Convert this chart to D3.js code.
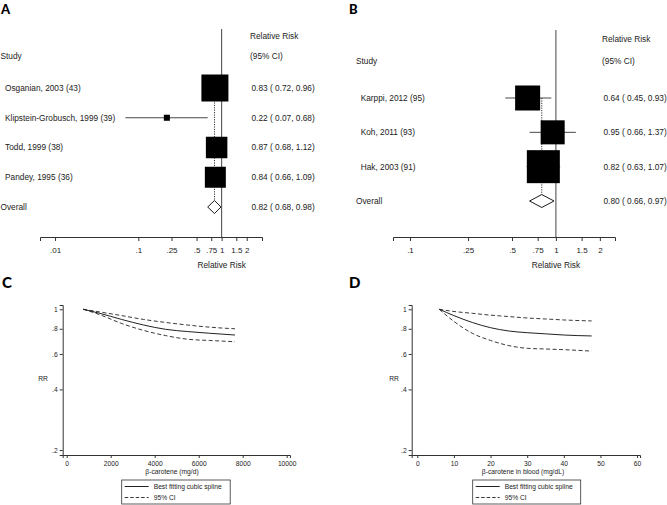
<!DOCTYPE html>
<html>
<head>
<meta charset="utf-8">
<script src="https://cdn.jsdelivr.net/npm/d3@7"></script>
<style>
  html, body { margin: 0; padding: 0; background: #fff; }
  svg { display: block; }
  text { font-family: "Liberation Sans", Arial, sans-serif; fill: #222; }
  .panel { font-family: Lato, "Open Sans", sans-serif; font-weight: 900; fill: #000; }
</style>
</head>
<body>
<svg id="chart" width="667" height="505"></svg>
<script>
// ---------------- DATA ----------------
// Panel A
const studiesA = ["Osganian, 2003 (43)", "Klipstein-Grobusch, 1999 (39)", "Todd, 1999 (38)", "Pandey, 1995 (36)"];
const rrA = [0.83, 0.22, 0.87, 0.84];
const lowA = [0.72, 0.07, 0.68, 0.66];
const highA = [0.96, 0.68, 1.12, 1.09];
const weightA = [43.7, 2.2, 27.7, 26.4];
const overallA = [0.82, 0.68, 0.98];
const ciTextA = ["0.83 ( 0.72, 0.96)", "0.22 ( 0.07, 0.68)", "0.87 ( 0.68, 1.12)", "0.84 ( 0.66, 1.09)", "0.82 ( 0.68, 0.98)"];
const ticksA = [0.01, 0.1, 0.25, 0.5, 0.75, 1, 1.5, 2];
const tickLabelsA = [".01", ".1", ".25", ".5", ".75", "1", "1.5", "2"];
const axisDomainA = [0.0066, 3.05];

// Panel B
const studiesB = ["Karppi, 2012 (95)", "Koh, 2011 (93)", "Hak, 2003 (91)"];
const rrB = [0.64, 0.95, 0.82];
const lowB = [0.45, 0.66, 0.63];
const highB = [0.93, 1.37, 1.07];
const weightB = [27.3, 25.2, 47.5];
const overallB = [0.80, 0.66, 0.97];
const ciTextB = ["0.64 ( 0.45, 0.93)", "0.95 ( 0.66, 1.37)", "0.82 ( 0.63, 1.07)", "0.80 ( 0.66, 0.97)"];
const ticksB = [0.1, 0.25, 0.5, 0.75, 1, 1.5, 2];
const tickLabelsB = [".1", ".25", ".5", ".75", "1", "1.5", "2"];
const axisDomainB = [0.0765, 2.54];

// Panel C (dose-response, dietary beta-carotene mg/d)
const doseC = [750, 1500, 2500, 3500, 4500, 5500, 6500, 7650];
const fitC = [1.0, 0.955, 0.89, 0.835, 0.795, 0.775, 0.76, 0.745];
const upperC = [1.0, 0.97, 0.93, 0.89, 0.86, 0.835, 0.815, 0.80];
const lowerC = [1.0, 0.94, 0.85, 0.785, 0.74, 0.71, 0.70, 0.69];
const xTicksC = [0, 2000, 4000, 6000, 8000, 10000];

// Panel D (blood beta-carotene mg/dL)
const doseD = [6, 10, 15, 20, 25, 30, 35, 40, 47.6];
const fitD = [1.0, 0.93, 0.86, 0.81, 0.78, 0.765, 0.755, 0.745, 0.737];
const upperD = [1.0, 0.975, 0.955, 0.935, 0.92, 0.905, 0.895, 0.885, 0.875];
const lowerD = [1.0, 0.87, 0.76, 0.70, 0.66, 0.64, 0.635, 0.63, 0.62];
const xTicksD = [0, 10, 20, 30, 40, 50, 60];

const yTicksRR = [0.2, 0.4, 0.6, 0.8, 1];
const yTickLabelsRR = [".2", ".4", ".6", ".8", "1"];
const yDomainRR = [0.189, 1.05];

// ---------------- DRAW ----------------
const svg = d3.select("#chart");
const LINE = "#333";
const FS = 8.3;   // forest plot text
const FS2 = 6.7;  // spline panels text

function forest(opt) {
  const g = svg.append("g");
  const x = d3.scaleLog().domain(opt.axisDomain).range(opt.xRange);
  const labels = opt.studies.concat(["Overall"]);
  const y = d3.scalePoint().domain(labels).range(opt.yRange);
  const size = d3.scaleSqrt().domain([0, d3.max(opt.weight)]).range([0, opt.maxBox]);

  g.append("text").attr("class", "panel").attr("x", opt.letterX).attr("y", 14)
    .attr("font-size", 13).text(opt.letter);

  g.append("text").attr("x", opt.studyX).attr("y", opt.headY2).attr("dy", "0.35em")
    .attr("font-size", FS).text("Study");
  g.append("text").attr("x", opt.valX - 1.5).attr("y", opt.headY1).attr("dy", "0.35em")
    .attr("font-size", FS).text("Relative Risk");
  g.append("text").attr("x", opt.valX - 1.5).attr("y", opt.headY2).attr("dy", "0.35em")
    .attr("font-size", FS).text("(95% CI)");

  const axisY = opt.axisY;
  const ax = g.append("g").attr("transform", `translate(0,${axisY})`)
    .call(d3.axisBottom(x).tickValues(opt.ticks).tickSizeOuter(0).tickSize(4)
      .tickFormat((d, i) => opt.tickLabels[i]));
  ax.select(".domain").attr("stroke", LINE);
  ax.selectAll(".tick line").attr("stroke", LINE);
  ax.selectAll(".tick text").attr("font-size", 8).attr("fill", "#222").attr("y", 10).attr("dy", "0.71em");
  g.append("text").attr("x", x(1)).attr("y", axisY + 31).attr("text-anchor", "middle")
    .attr("font-size", FS).text("Relative Risk");

  g.append("line").attr("x1", x(1)).attr("x2", x(1)).attr("y1", opt.nullTop).attr("y2", axisY)
    .attr("stroke", "#444").attr("stroke-width", 1);

  g.append("line").attr("x1", x(opt.overall[0])).attr("x2", x(opt.overall[0]))
    .attr("y1", y(labels[0])).attr("y2", y("Overall") - 6.5)
    .attr("stroke", "#000").attr("stroke-width", 0.8).attr("stroke-dasharray", "1.2,1.2");

  opt.studies.forEach((s, i) => {
    g.append("line").attr("x1", x(opt.low[i])).attr("x2", x(opt.high[i]))
      .attr("y1", y(s)).attr("y2", y(s)).attr("stroke", "#333").attr("stroke-width", 0.9);
    const w = size(opt.weight[i]);
    g.append("rect").attr("x", x(opt.rr[i]) - w / 2).attr("y", y(s) - w / 2)
      .attr("width", w).attr("height", w).attr("fill", "#000");
  });

  const yo = y("Overall"), hd = 6.5;
  g.append("path").attr("d",
    `M${x(opt.overall[1])},${yo}L${x(opt.overall[0])},${yo - hd}L${x(opt.overall[2])},${yo}L${x(opt.overall[0])},${yo + hd}Z`)
    .attr("fill", "#fff").attr("stroke", "#000").attr("stroke-width", 0.9);

  labels.forEach((s, i) => {
    g.append("text").attr("x", s === "Overall" ? opt.studyX : opt.studyX + opt.indent)
      .attr("y", y(s)).attr("dy", "0.35em").attr("font-size", FS).text(s);
    g.append("text").attr("x", opt.valX).attr("y", y(s)).attr("dy", "0.35em")
      .attr("font-size", FS).text(opt.ciText[i]);
  });
}

forest({
  letter: "A", letterX: 1,
  studies: studiesA, rr: rrA, low: lowA, high: highA, weight: weightA, overall: overallA,
  ciText: ciTextA, ticks: ticksA, tickLabels: tickLabelsA, axisDomain: axisDomainA,
  xRange: [40, 262], yRange: [88, 207], maxBox: 27,
  studyX: 0.5, indent: 4.5, valX: 251.5, headY1: 36.5, headY2: 56,
  axisY: 237, nullTop: 29
});
forest({
  letter: "B", letterX: 349,
  studies: studiesB, rr: rrB, low: lowB, high: highB, weight: weightB, overall: overallB,
  ciText: ciTextB, ticks: ticksB, tickLabels: tickLabelsB, axisDomain: axisDomainB,
  xRange: [393, 615], yRange: [98, 201], maxBox: 33,
  studyX: 356, indent: 4.7, valX: 603.5, headY1: 39, headY2: 61.5,
  axisY: 237, nullTop: 30
});

function spline(opt) {
  const g = svg.append("g");
  const x = d3.scaleLinear().domain(opt.xDomain).range(opt.xRange);
  const y = d3.scaleLog().domain(yDomainRR).range([455, 305]);

  g.append("text").attr("class", "panel").attr("x", opt.letterX).attr("y", 288)
    .attr("font-size", 15).text(opt.letter);

  const xa = g.append("g").attr("transform", "translate(0,455)")
    .call(d3.axisBottom(x).tickValues(opt.xTicks).tickSizeOuter(0).tickSize(3).tickFormat(d3.format("d")));
  const ya = g.append("g").attr("transform", `translate(${opt.xRange[0]},0)`)
    .call(d3.axisLeft(y).tickValues(yTicksRR).tickSizeOuter(0).tickSize(3)
      .tickFormat((d, i) => yTickLabelsRR[i]));
  [xa, ya].forEach(a => {
    a.select(".domain").attr("stroke", LINE);
    a.selectAll(".tick line").attr("stroke", LINE);
    a.selectAll(".tick text").attr("font-size", FS2).attr("fill", "#222");
  });
  xa.selectAll(".tick text").attr("y", 6.5);
  ya.selectAll(".tick text").attr("x", -5);

  g.append("text").attr("x", opt.titleX).attr("y", 472).attr("dy", "0.35em")
    .attr("text-anchor", "middle").attr("font-size", FS2).text(opt.title);
  g.append("text").attr("x", opt.rrX).attr("y", 379).attr("dy", "0.35em")
    .attr("text-anchor", "middle").attr("font-size", FS2).text("RR");

  const line = d3.line().x(d => x(d[0])).y(d => y(d[1])).curve(d3.curveMonotoneX);
  const mk = vals => opt.dose.map((d, i) => [d, vals[i]]);
  g.append("path").attr("d", line(mk(opt.upper))).attr("fill", "none").attr("stroke", "#222")
    .attr("stroke-width", 0.9).attr("stroke-dasharray", "4,2.5");
  g.append("path").attr("d", line(mk(opt.lower))).attr("fill", "none").attr("stroke", "#222")
    .attr("stroke-width", 0.9).attr("stroke-dasharray", "4,2.5");
  g.append("path").attr("d", line(mk(opt.fit))).attr("fill", "none").attr("stroke", "#222")
    .attr("stroke-width", 1);

  const lx = opt.legendX, lw = opt.legendW;
  g.append("rect").attr("x", lx).attr("y", 480).attr("width", lw).attr("height", 24)
    .attr("fill", "#fff").attr("stroke", "#333").attr("stroke-width", 0.8);
  g.append("line").attr("x1", lx + 3).attr("x2", lx + 27).attr("y1", 486.5).attr("y2", 486.5)
    .attr("stroke", "#222").attr("stroke-width", 1);
  g.append("line").attr("x1", lx + 3).attr("x2", lx + 27).attr("y1", 497.5).attr("y2", 497.5)
    .attr("stroke", "#222").attr("stroke-width", 0.9).attr("stroke-dasharray", "3.5,2");
  g.append("text").attr("x", lx + 32).attr("y", 486.5).attr("dy", "0.35em").attr("font-size", FS2)
    .text("Best fitting cubic spline");
  g.append("text").attr("x", lx + 32).attr("y", 497.5).attr("dy", "0.35em").attr("font-size", FS2)
    .text("95% CI");
}

spline({
  letter: "C", letterX: 2,
  xDomain: [-182, 10150], xRange: [62.7, 290], xTicks: xTicksC,
  dose: doseC, fit: fitC, upper: upperC, lower: lowerC,
  title: "β-carotene (mg/d)", titleX: 172, rrX: 43,
  legendX: 121.7, legendW: 108.5
});
spline({
  letter: "D", letterX: 349,
  xDomain: [-1.53, 60.8], xRange: [411.7, 640], xTicks: xTicksD,
  dose: doseD, fit: fitD, upper: upperD, lower: lowerD,
  title: "β-carotene in blood (mg/dL)", titleX: 523, rrX: 394,
  legendX: 472.7, legendW: 108
});
</script>
</body>
</html>
